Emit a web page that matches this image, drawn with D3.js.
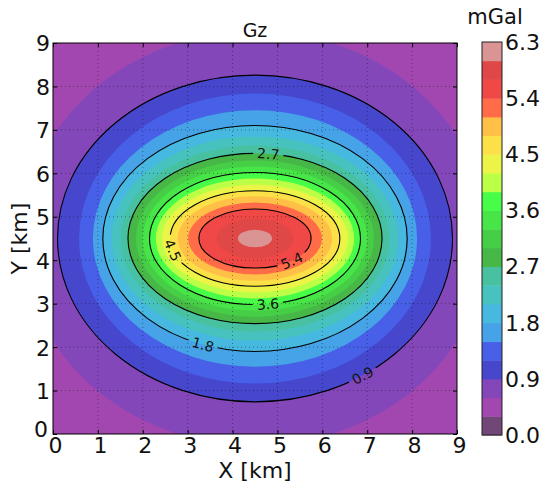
<!DOCTYPE html>
<html><head><meta charset="utf-8">
<script src="https://cdn.jsdelivr.net/npm/d3@7"></script>
<style>body{margin:0;background:#fff} text{font-family:"DejaVu Sans",sans-serif}</style>
</head><body><svg id="c" width="546" height="489"></svg>
<script>
// ---- data ----
const bandLevels = [0.0,0.3,0.6,0.9,1.2,1.5,1.8,2.1,2.4,2.7,3.0,3.3,3.6,3.9,4.2,4.5,4.8,5.1,5.4,5.7,6.0,6.3];
const contourLevels = [0.6,0.9,1.2,1.5,1.8,2.1,2.4,2.7,3.0,3.3,3.6,3.9,4.2,4.5,4.8,5.1,5.4,5.7,6.0];
const semiX = [5.17,4.40,3.92,3.61,3.39,3.19,2.99,2.83,2.65,2.50,2.35,2.21,2.07,1.89,1.72,1.49,1.25,0.85,0.38];
const semiY = [4.77,3.76,3.34,2.95,2.60,2.35,2.14,1.96,1.80,1.66,1.52,1.38,1.24,1.10,0.97,0.83,0.68,0.46,0.20];
const centerX = 4.5, centerY = 4.5;
const lineLevels = [0.9,1.8,2.7,3.6,4.5,5.4];
const labelParam = [-57,-110,84,-83,194,-49]; // position of each line label along its contour (deg)
const xTicks = [0,1,2,3,4,5,6,7,8,9];
const yTicks = [0,1,2,3,4,5,6,7,8,9];
const cbTicks = [0.0,0.9,1.8,2.7,3.6,4.5,5.4,6.3];

// ---- nipy_spectral colormap ----
const cmX = [0,0.05,0.1,0.15,0.2,0.25,0.3,0.35,0.4,0.45,0.5,0.55,0.6,0.65,0.7,0.75,0.8,0.85,0.9,0.95,1];
const cmR = [0,0.4667,0.5333,0,0,0,0,0,0,0,0,0,0,0.7333,0.9333,1,1,1,0.8667,0.8,0.8];
const cmG = [0,0,0,0,0,0.4667,0.6,0.6667,0.6667,0.6,0.7333,0.8667,1,1,0.9333,0.8,0.6,0,0,0,0.8];
const cmB = [0,0.5333,0.6,0.6667,0.8667,0.8667,0.8667,0.6667,0.5333,0,0,0,0,0,0,0,0,0,0,0,0.8];
const alpha = 0.72;
const sr = d3.scaleLinear().domain(cmX).range(cmR);
const sg = d3.scaleLinear().domain(cmX).range(cmG);
const sb = d3.scaleLinear().domain(cmX).range(cmB);
const vmin = bandLevels[0], vmax = bandLevels[bandLevels.length-1];
function bandColor(lo){
  const t = (lo + 0.15 - vmin)/(vmax - vmin);
  const f = v => Math.round(255*(alpha*v + 1 - alpha));
  return d3.rgb(f(sr(t)), f(sg(t)), f(sb(t))).toString();
}

const svg = d3.select('#c');
const L = 53, R = 457, T = 43, B = 434;
const x = d3.scaleLinear().domain([0,9]).range([L,R]);
const y = d3.scaleLinear().domain([0,9]).range([B,T]);

const defs = svg.append('defs');
defs.append('clipPath').attr('id','clip').append('rect')
  .attr('x',L).attr('y',T).attr('width',R-L).attr('height',B-T);

const plot = svg.append('g').attr('clip-path','url(#clip)');
plot.append('rect').attr('x',L).attr('y',T).attr('width',R-L).attr('height',B-T)
  .attr('fill', bandColor(0.3));
contourLevels.forEach((lv,i)=>{
  plot.append('ellipse')
    .attr('cx', x(centerX)).attr('cy', y(centerY))
    .attr('rx', x(centerX+semiX[i]) - x(centerX))
    .attr('ry', y(centerY) - y(centerY+semiY[i]))
    .attr('fill', bandColor(lv));
});

// grid
const grid = svg.append('g').attr('stroke','#000').attr('stroke-opacity',0.5)
  .attr('stroke-width',0.8).attr('stroke-dasharray','1,3');
xTicks.slice(1,-1).forEach(v=>grid.append('line').attr('x1',x(v)).attr('x2',x(v)).attr('y1',T).attr('y2',B));
yTicks.slice(1,-1).forEach(v=>grid.append('line').attr('y1',y(v)).attr('y2',y(v)).attr('x1',L).attr('x2',R));

// contour labels & mask
const mask = defs.append('mask').attr('id','lblmask').attr('maskUnits','userSpaceOnUse')
  .attr('x',0).attr('y',0).attr('width',546).attr('height',489);
mask.append('rect').attr('x',0).attr('y',0).attr('width',546).attr('height',489).attr('fill','#fff');

const lines = svg.append('g').attr('clip-path','url(#clip)').append('g').attr('mask','url(#lblmask)');
const labels = svg.append('g');
lineLevels.forEach((lv,j)=>{
  const i = contourLevels.findIndex(v=>Math.abs(v-lv)<1e-6);
  const a = semiX[i], b = semiY[i];
  lines.append('ellipse')
    .attr('cx', x(centerX)).attr('cy', y(centerY))
    .attr('rx', x(centerX+a) - x(centerX))
    .attr('ry', y(centerY) - y(centerY+b))
    .attr('fill','none').attr('stroke','#000').attr('stroke-width',1.1);
  const th = labelParam[j]*Math.PI/180;
  const px = x(centerX + a*Math.cos(th)), py = y(centerY + b*Math.sin(th));
  const dX = x(centerX + a*Math.cos(th+0.01)) - x(centerX + a*Math.cos(th-0.01));
  const dY = y(centerY + b*Math.sin(th+0.01)) - y(centerY + b*Math.sin(th-0.01));
  let ang = Math.atan2(dY,dX)*180/Math.PI;
  if (ang > 90) ang -= 180; if (ang < -90) ang += 180;
  const t = labels.append('text').attr('transform',`translate(${px},${py}) rotate(${ang})`)
    .attr('text-anchor','middle').attr('dy','0.36em').attr('font-size',14).attr('fill','#111')
    .text(lv.toFixed(1));
  const w = t.node().getComputedTextLength() + 8;
  mask.append('rect').attr('x',-w/2).attr('y',-7).attr('width',w).attr('height',14)
    .attr('fill','#000').attr('transform',`translate(${px},${py}) rotate(${ang})`);
});

// axes
const fs = 22;
const ax = svg.append('g').attr('transform',`translate(0,${B})`)
  .call(d3.axisBottom(x).tickValues(xTicks).tickFormat(d3.format('d')).tickSizeInner(-4).tickSizeOuter(0).tickPadding(3));
const ay = svg.append('g').attr('transform',`translate(${L},0)`)
  .call(d3.axisLeft(y).tickValues(yTicks).tickFormat(d3.format('d')).tickSizeInner(-4).tickSizeOuter(0).tickPadding(3));
const at = svg.append('g').attr('transform',`translate(0,${T})`)
  .call(d3.axisTop(x).tickValues(xTicks).tickFormat('').tickSizeInner(-4).tickSizeOuter(0));
const ar = svg.append('g').attr('transform',`translate(${R},0)`)
  .call(d3.axisRight(y).tickValues(yTicks).tickFormat('').tickSizeInner(-4).tickSizeOuter(0));
[ax,ay,at,ar].forEach(g=>{ g.select('.domain').remove(); g.selectAll('text').attr('font-size',fs).attr('font-family','DejaVu Sans').attr('fill','#111'); g.selectAll('line').attr('stroke','#000'); });
ax.selectAll('text').attr('dx', 2);
ay.selectAll('text').attr('dy','0.36em');
ay.selectAll('.tick').filter(d=>d===0).select('text').attr('dy','0.1em').attr('dx',-2);

svg.append('rect').attr('x',L).attr('y',T).attr('width',R-L).attr('height',B-T)
  .attr('fill','none').attr('stroke','#000').attr('stroke-width',1);

svg.append('text').attr('x',(L+R)/2).attr('y',478).attr('text-anchor','middle').attr('font-size',fs).attr('fill','#111').text('X [km]');
svg.append('text').attr('transform',`translate(27,${(T+B)/2}) rotate(-90)`).attr('text-anchor','middle').attr('font-size',fs).attr('fill','#111').text('Y [km]');
svg.append('text').attr('x',(L+R)/2).attr('y',37).attr('text-anchor','middle').attr('font-size',19).attr('fill','#111').text('Gz');

// colorbar
const cbL = 482, cbW = 20, cbT = 42, cbB = 435;
const cy = d3.scaleLinear().domain([vmin,vmax]).range([cbB,cbT]);
const cb = svg.append('g');
bandLevels.slice(0,-1).forEach((lo,i)=>{
  cb.append('rect').attr('x',cbL).attr('width',cbW)
    .attr('y', cy(bandLevels[i+1])).attr('height', cy(lo)-cy(bandLevels[i+1])+0.5)
    .attr('fill', bandColor(lo));
});
cb.append('rect').attr('x',cbL).attr('y',cbT).attr('width',cbW).attr('height',cbB-cbT)
  .attr('fill','none').attr('stroke','#222').attr('stroke-width',1);
cbTicks.forEach(v=>{
  cb.append('text').attr('x',cbL+cbW+3).attr('y',cy(v)).attr('dy','0.36em')
    .attr('font-size',fs).attr('fill','#111').text(v.toFixed(1));
});
svg.append('text').attr('x',cbL+cbW/2+3).attr('y',24).attr('text-anchor','middle').attr('font-size',fs-1).attr('fill','#111').text('mGal');
</script></body></html>
